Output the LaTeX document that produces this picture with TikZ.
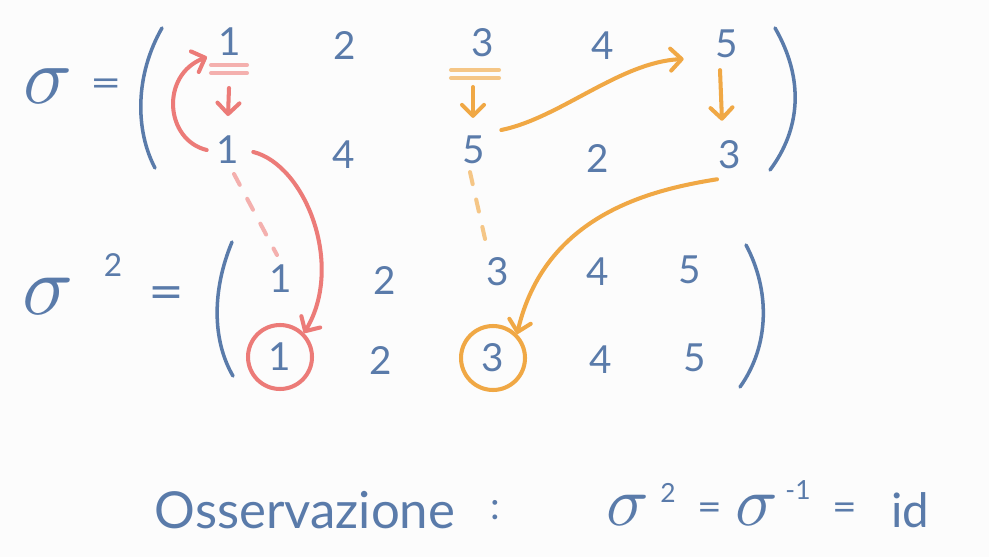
\documentclass[tikz,border=0pt]{standalone}
\usepackage{fontspec}
\setmainfont{Lato}
\usetikzlibrary{arrows.meta,positioning,calc}
\definecolor{ink}{HTML}{5A7BAA}
\definecolor{redpen}{HTML}{EC7B78}
\definecolor{orangepen}{HTML}{F0A845}
\definecolor{paper}{HTML}{FCFCFC}
\newcommand{\bigsig}[1]{{\fontsize{10}{12}\selectfont\scalebox{#1}{$\sigma$}}}
\newcommand{\wideeq}[2]{\scalebox{#1}[#2]{=}}

\begin{document}
\begin{tikzpicture}[
  x=0.02cm,y=-0.02cm,
  font=\fontsize{22}{26}\selectfont,
  entry/.style={text=ink,inner sep=1pt},
  sigmark/.style={text=ink,inner sep=0pt},
  expo/.style={text=ink,inner sep=0pt,font=\fontsize{18}{20}\selectfont},
  paren/.style={draw=ink,line width=2pt,line cap=round},
  pen/.style={line width=2.3pt,line cap=round},
  redarrow/.style={pen,draw=redpen,-{Straight Barb[length=2.2mm,width=4.4mm,round]}},
  orangearrow/.style={pen,draw=orangepen,-{Straight Barb[length=2.2mm,width=4.4mm,round]}},
  reddash/.style={pen,draw=redpen!60,dash pattern=on 7pt off 9pt},
  orangedash/.style={pen,draw=orangepen!65,dash pattern=on 7pt off 9pt},
  ring/.style={circle,line width=2.3pt,minimum size=1.28cm,inner sep=0pt,text=ink}
]
  \fill[paper] (0,0) rectangle (989,557);
  \useasboundingbox (0,0) rectangle (989,557);

  % sigma, first matrix
  \node[sigmark] (sig) at (48,86) {\bigsig{4.6}};
  \node[entry] (eqa) at (106,88) {\wideeq{1.4}{1}};
  \node[entry] (t1) at (230,42) {1};
  \node[entry] (t2) at (345,46) {2};
  \node[entry] (t3) at (483,43) {3};
  \node[entry] (t4) at (603,46) {4};
  \node[entry] (t5) at (727,44) {5};
  \node[entry] (b1) at (228,150) {1};
  \node[entry] (b4) at (344,155) {4};
  \node[entry] (b5) at (474,150) {5};
  \node[entry] (b2) at (598,158) {2};
  \node[entry] (b3) at (730,155) {3};
  \draw[paren] (162,28) .. controls (135,75) and (135,130) .. (155,168);
  \draw[paren] (775,28) .. controls (805,80) and (800,130) .. (770,170);

  % sigma squared
  \node[sigmark] (sigsq) at (48,296) {\bigsig{4.8}};
  \node[expo] (two) at (113,265) {2};
  \node[entry] (eqb) at (166,298) {\wideeq{1.6}{1.3}};
  \node[entry] (r1) at (281,279) {1};
  \node[entry] (r2) at (385,280) {2};
  \node[entry] (r3) at (498,272) {3};
  \node[entry] (r4) at (598,272) {4};
  \node[entry] (r5) at (690,270) {5};
  \node[ring,draw=redpen] (c1) at (280,357) {1};
  \node[entry] (s2) at (381,360) {2};
  \node[ring,draw=orangepen] (c3) at (493,358) {3};
  \node[entry] (s4) at (601,360) {4};
  \node[entry] (s5) at (695,358) {5};
  \draw[paren] (232,242) .. controls (212,290) and (212,340) .. (233,376);
  \draw[paren] (746,245) .. controls (770,290) and (770,345) .. (740,387);

  % double marks under the fixed starts
  \coordinate (mk1) at (229,69);
  \coordinate (mk3) at (475,74);
  \draw[pen,draw=redpen!60] ($(mk1)+(-18,-4)$) -- ($(mk1)+(18,-4)$);
  \draw[pen,draw=redpen!60] ($(mk1)+(-18,4)$) -- ($(mk1)+(18,4)$);
  \draw[pen,draw=orangepen!65] ($(mk3)+(-24,-4)$) -- ($(mk3)+(24,-4)$);
  \draw[pen,draw=orangepen!65] ($(mk3)+(-24,4)$) -- ($(mk3)+(24,4)$);

  % cycle of 1
  \draw[redarrow] ($(mk1)+(0,19)$) -- ($(b1.north)+(0,-18)$);
  \draw[redarrow] ($(b1.west)+(-8,0)$) .. controls (165,140) and (160,75) .. ($(mk1)+(-22,-12)$);
  \draw[redarrow] ($(b1.east)+(12,2)$) .. controls (305,165) and (345,265) .. (c1.north east);
  \draw[reddash] ($(b1.south)+(6,8)$) -- ($(r1.north)+(-4,-8)$);

  % cycle of 3 and 5
  \draw[orangearrow] ($(mk3)+(-2,13)$) -- ($(b5.north)+(-1,-16)$);
  \draw[orangearrow] ($(b5.east)+(14,-20)$) .. controls (560,118) and (620,62) .. ($(t5.west)+(-30,15)$);
  \draw[orangearrow] ($(t5.south)+(-7,10)$) -- ($(b3.north)+(-8,-18)$);
  \draw[orangearrow] ($(b3.south)+(-13,8)$) .. controls (650,190) and (545,215) .. (c3.north east);
  \draw[orangedash] ($(b5.south)+(-4,6)$) -- ($(r3.north)+(-11,-8)$);

  % remark
  \node[entry,font=\fontsize{29}{32}\selectfont] (oss) at (305,510) {Osservazione};
  \node[entry] (colon) at (495,510) {:};
  \node[sigmark] (sigA) at (628,510) {\bigsig{4}};
  \node[expo,font=\fontsize{15}{17}\selectfont] (sqA) at (668,493) {2};
  \node[entry] (eqc) at (710,512) {\wideeq{1.1}{1}};
  \node[sigmark] (sigB) at (757,510) {\bigsig{4}};
  \node[expo,font=\fontsize{15}{17}\selectfont] (inv) at (798,490) {-1};
  \node[entry] (eqd) at (845,512) {\wideeq{1.1}{1}};
  \node[entry,font=\fontsize{27}{30}\selectfont] (idn) at (910,510) {id};
\end{tikzpicture}
\end{document}
